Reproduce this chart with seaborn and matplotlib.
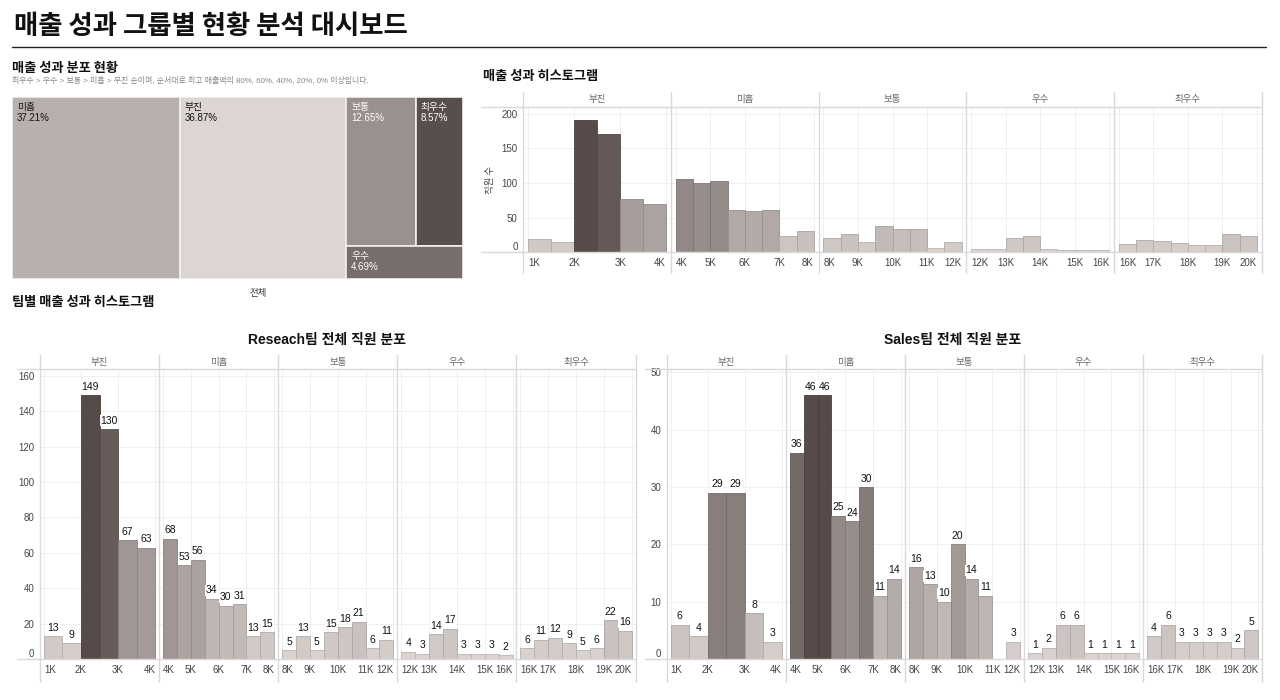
import numpy as np
import pandas as pd
import matplotlib
matplotlib.use('Agg')
import matplotlib.pyplot as plt
import seaborn as sns
from matplotlib.colors import LinearSegmentedColormap, to_rgb
from matplotlib.lines import Line2D
from matplotlib.patches import Rectangle

# ---- data -------------------------------------------------------------
GRADES = ['부진', '미흡', '보통', '우수', '최우수']
GRADE_RANGES = [(1000, 4000), (4000, 8000), (8000, 12000), (12000, 16000), (16000, 20000)]
BIN_W = 500

total_counts = [
    [19, 15, 190, 170, 77, 70],
    [106, 100, 103, 61, 60, 61, 24, 30],
    [21, 27, 15, 38, 33, 33, 6, 15],
    [5, 5, 20, 23, 5, 4, 4, 3],
    [12, 18, 16, 13, 10, 11, 26, 24],
]
research_counts = [
    [13, 9, 149, 130, 67, 63],
    [68, 53, 56, 34, 30, 31, 13, 15],
    [5, 13, 5, 15, 18, 21, 6, 11],
    [4, 3, 14, 17, 3, 3, 3, 2],
    [6, 11, 12, 9, 5, 6, 22, 16],
]
sales_counts = [
    [6, 4, 29, 29, 8, 3],
    [36, 46, 46, 25, 24, 30, 11, 14],
    [16, 13, 10, 20, 14, 11, 0, 3],
    [1, 2, 6, 6, 1, 1, 1, 1],
    [4, 6, 3, 3, 3, 3, 2, 5],
]

tree_labels = ['미흡', '부진', '보통', '최우수', '우수']
tree_shares = [37.21, 36.87, 12.65, 8.57, 4.69]
tree_colors = ['#b8b0ad', '#dcd5d2', '#9a908d', '#584e4b', '#776d6a']

# ---- style ------------------------------------------------------------
sns.set_theme(style='white')
plt.rcParams['font.family'] = ['Liberation Sans', 'Noto Sans CJK KR']

W, H = 1280, 700
CMAP = LinearSegmentedColormap.from_list('sales', ['#ddd6d3', '#564b48'])
LINE_C = '#d9d9d9'
GRID_C = '#f0f0f0'
KR = ['Noto Sans CJK KR', 'DejaVu Sans']

fig = plt.figure(figsize=(W / 100, H / 100), dpi=100)


def box(x0, y0, x1, y1):
    return [x0 / W, 1 - y1 / H, (x1 - x0) / W, (y1 - y0) / H]


def hline(y, x0, x1, color=LINE_C, lw=1.0):
    fig.add_artist(Line2D([x0 / W, x1 / W], [1 - y / H, 1 - y / H],
                          color=color, lw=lw, transform=fig.transFigure))


def vline(x, y0, y1, color=LINE_C, lw=1.0):
    fig.add_artist(Line2D([x / W, x / W], [1 - y0 / H, 1 - y1 / H],
                          color=color, lw=lw, transform=fig.transFigure))


def darker(c, f=0.85):
    r, g, b = to_rgb(c)
    return (r * f, g * f, b * f)


def draw_facets(counts_list, left, right, head_top, head_bottom, zero_y,
                sep_bottom, line_left, yticks, labels=False, ylabel=None):
    vmax = max(max(c) for c in counts_list)
    ymax = vmax * 1.1
    w = (right - left) / len(GRADES)
    for i, (grade, (lo, hi), counts) in enumerate(zip(GRADES, GRADE_RANGES, counts_list)):
        x0 = left + i * w
        ax = fig.add_axes(box(x0, head_bottom, x0 + w, zero_y))
        starts = np.arange(lo, hi, BIN_W)
        df = pd.DataFrame({'sales': starts + BIN_W / 2, 'n': counts})
        sns.histplot(data=df, x='sales', weights='n', binwidth=BIN_W,
                     binrange=(lo, hi), ax=ax, element='bars', fill=True,
                     linewidth=0)
        for p in ax.patches:
            c = CMAP(p.get_height() / vmax)
            p.set_facecolor(c)
            p.set_edgecolor(darker(c))
            p.set_linewidth(0.6)
            p.set_alpha(1)
        pad = (hi - lo) * 0.035
        ax.set_xlim(lo - pad, hi + pad)
        ax.set_ylim(0, ymax)
        xt = np.arange(lo, hi + 1, 1000)
        ax.set_xticks(xt)
        xl = ax.set_xticklabels([f'{t // 1000}K' for t in xt], fontsize=7, color='#444')
        xl[0].set_ha('left')
        xl[-1].set_ha('right')
        ax.set_yticks(yticks)
        if i == 0:
            yl = ax.set_yticklabels([str(t) for t in yticks], fontsize=7, color='#444')
            yl[0].set_va('bottom')
        else:
            ax.set_yticklabels([])
        ax.tick_params(length=0, pad=4)
        ax.grid(True, color=GRID_C, lw=0.7)
        ax.set_axisbelow(True)
        for s in ax.spines.values():
            s.set_visible(False)
        ax.set_xlabel('')
        ax.set_ylabel('')
        ax.patch.set_alpha(0)
        if labels:
            for p in ax.patches:
                n = int(round(p.get_height()))
                if n == 0:
                    continue
                ax.text(p.get_x() + p.get_width() / 2, n + ymax * 0.012, str(n),
                        ha='center', va='bottom', fontsize=7.5, color='#111',
                        bbox=dict(fc='white', ec='none', pad=0.4))
        fig.text((x0 + w / 2) / W, 1 - (head_top + head_bottom) / 2 / H, grade,
                 ha='center', va='center', fontsize=6.8, color='#666', family=KR)
        vline(x0, head_top, sep_bottom)
    vline(right, head_top, sep_bottom)
    hline(head_bottom, line_left, right)
    hline(zero_y, line_left, right)
    if ylabel:
        fig.text((left - 33) / W, 1 - (head_bottom + zero_y) / 2 / H, ylabel,
                 rotation=90, ha='center', va='center', fontsize=6.8, color='#444',
                 family=KR)


# ---- header -----------------------------------------------------------
fig.text(14 / W, 1 - 26 / H, '매출 성과 그룹별 현황 분석 대시보드',
         fontsize=19, fontweight='bold', va='center', color='#111', family=KR)
hline(47, 12, 1266, color='#222', lw=1.0)

# ---- treemap ----------------------------------------------------------
fig.text(12 / W, 1 - 68 / H, '매출 성과 분포 현황', fontsize=9.5,
         fontweight='bold', va='center', color='#111', family=KR)
fig.text(12 / W, 1 - 81 / H,
         '최우수 > 우수 > 보통 > 미흡 > 부진 순이며, 순서대로 최고 매출액의 80%, 60%, 40%, 20%, 0% 이상입니다.',
         fontsize=5.7, va='center', color='#888')

tax = fig.add_axes(box(12, 97, 463, 279))
tax.set_xlim(0, 1)
tax.set_ylim(1, 0)
tax.axis('off')
total = sum(tree_shares)
rects = []
x = 0.0
for s in tree_shares[:2]:
    rects.append((x, 0.0, s / total, 1.0))
    x += s / total
rest = tree_shares[2:]
gw = sum(rest) / total
top_h = (rest[0] + rest[1]) / sum(rest)
rects.append((x, 0.0, gw * rest[0] / (rest[0] + rest[1]), top_h))
rects.append((x + gw * rest[0] / (rest[0] + rest[1]), 0.0,
              gw * rest[1] / (rest[0] + rest[1]), top_h))
rects.append((x, top_h, gw, 1 - top_h))
for (rx, ry, rw, rh), lab, val, col in zip(rects, tree_labels, tree_shares, tree_colors):
    tax.add_patch(Rectangle((rx, ry), rw, rh, fc=col, ec='#f2f0ef', lw=1.2))
    lum = np.dot(to_rgb(col), [0.299, 0.587, 0.114])
    tc = '#111' if lum > 0.6 else 'white'
    tax.text(rx + 5 / 451, ry + 5 / 182, f'{lab}\n{val:.2f}%', ha='left', va='top',
             fontsize=7, color=tc, linespacing=1.1)
fig.text(258 / W, 1 - 294 / H, '전체', ha='center', va='center', fontsize=6.8,
         color='#333', family=KR)

# ---- overall histogram ------------------------------------------------
fig.text(483 / W, 1 - 76 / H, '매출 성과 히스토그램', fontsize=9.5,
         fontweight='bold', va='center', color='#111', family=KR)
draw_facets(total_counts, 523.3, 1261.7, 91.7, 107.3, 252.3, 273, 481,
            [0, 50, 100, 150, 200], ylabel='직원 수')

# ---- team histograms --------------------------------------------------
fig.text(12 / W, 1 - 302 / H, '팀별 매출 성과 히스토그램', fontsize=9.5,
         fontweight='bold', va='center', color='#111', family=KR)
fig.text(327 / W, 1 - 340 / H, 'Reseach팀 전체 직원 분포', fontsize=10,
         fontweight='bold', ha='center', va='center', color='#111')
draw_facets(research_counts, 40, 635.5, 355, 369, 659, 682, 17,
            [0, 20, 40, 60, 80, 100, 120, 140, 160], labels=True)

fig.text(953 / W, 1 - 340 / H, 'Sales팀 전체 직원 분포', fontsize=10,
         fontweight='bold', ha='center', va='center', color='#111')
draw_facets(sales_counts, 666.7, 1262.3, 355, 369, 659, 682, 645,
            [0, 10, 20, 30, 40, 50], labels=True)

fig.savefig('out.png', dpi=100, facecolor='white')
